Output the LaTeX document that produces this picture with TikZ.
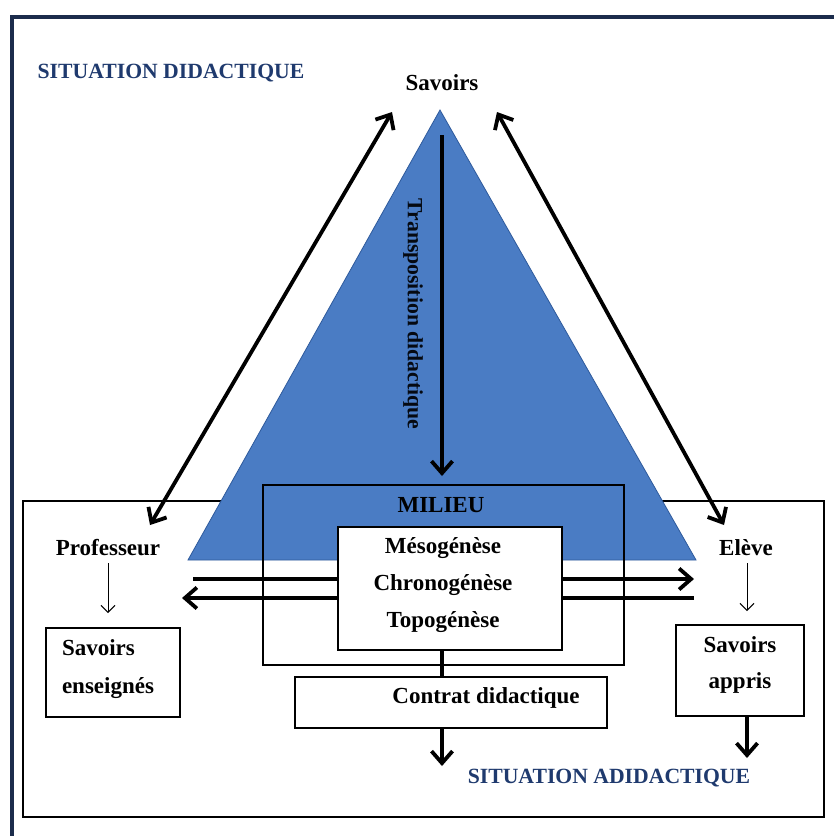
\documentclass[tikz,border=0pt]{standalone}
\usepackage{fontspec}
\setmainfont{Liberation Serif}
\usetikzlibrary{arrows.meta}
\definecolor{navy}{HTML}{1F3A6E}
\definecolor{framecol}{HTML}{1C2C4C}
\definecolor{triblue}{HTML}{4A7CC4}
\definecolor{triedge}{HTML}{2E5A9C}
\begin{document}
\begin{tikzpicture}[x=1pt,y=-1pt,
  lbl/.style={font=\fontsize{23}{37}\selectfont\bfseries, inner sep=0pt, align=center},
  biglbl/.style={font=\fontsize{21.7}{25}\selectfont\bfseries, inner sep=0pt, text=navy},
  boxshape/.style={draw=black, line width=2.7pt, inner sep=0pt},
  heavy/.style={line width=3.8pt, -{Straight Barb[length=12pt,width=21pt]}},
  heavyboth/.style={line width=3.8pt, {Straight Barb[length=12pt,width=21pt]}-{Straight Barb[length=12pt,width=21pt]}},
  light/.style={line width=1pt, -{Straight Barb[length=7pt,width=14pt]}}
]
\useasboundingbox (0,0) rectangle (834,836);
\clip (0,0) rectangle (834,836);
\fill[white] (0,0) rectangle (834,836);
% outer frame (right and bottom outside the picture)
\draw[framecol, line width=4.5pt] (12,900) -- (12,17) -- (900,17);

% situation adidactique box
\node[boxshape, minimum width=801, minimum height=316] (adid) at (423.5,659) {};

% triangle
\fill[triblue, draw=triedge, line width=0.8pt] (440,110) -- (188,560) -- (696,560) -- cycle;

% milieu box
\node[boxshape, minimum width=361, minimum height=180] (milieu) at (443.5,575) {};

% horizontal arrows
\coordinate (hL1) at (193,579);
\coordinate (hR1) at (694,579);
\coordinate (hR2) at (694,598);
\coordinate (hL2) at (182,598);
\draw[heavy] (hL1) -- (hR1);
\draw[heavy] (hR2) -- (hL2);

% white box
\node[boxshape, fill=white, minimum width=224, minimum height=123] (wbox) at (450,588.5) {};
\node[lbl] (genese) at (443,585) {Mésogénèse\\Chronogénèse\\Topogénèse};
\node[lbl] (mil) at (441,505) {MILIEU};

% contrat
\node[boxshape, minimum width=312, minimum height=51] (contrat) at (451,702.5) {};
\node[lbl] (contrattxt) at (486,698) {Contrat didactique};
\draw[line width=3.8pt] (wbox.south -| 442,0) -- (contrat.north -| 442,0);
\coordinate (cdown) at (442,766);
\draw[heavy] (contrat.south -| 442,0) -- (cdown);

% savoirs enseignés / appris
\node[boxshape, minimum width=134, minimum height=89] (ens) at (113,672.5) {};
\node[lbl, align=left, font=\fontsize{23}{38}\selectfont\bfseries] (enstxt) at (108,669) {Savoirs\\enseignés};
\node[boxshape, minimum width=128, minimum height=91] (appr) at (740,670.5) {};
\node[lbl, font=\fontsize{23}{36}\selectfont\bfseries] (apprtxt) at (740,665) {Savoirs\\appris};
\coordinate (adown) at (747,758);
\draw[heavy] (appr.south -| 747,0) -- (adown);

% labels
\node[lbl] (prof) at (108,548) {Professeur};
\node[lbl] (eleve) at (746,548) {Elève};
\node[lbl] (savoirs) at (442,83) {Savoirs};
\node[biglbl] (sitd) at (171,73) {SITUATION DIDACTIQUE};
\node[biglbl] (sitad) at (609,778) {SITUATION ADIDACTIQUE};
\node[lbl, rotate=-90, font=\fontsize{21.7}{25}\selectfont\bfseries, text=black!85!navy] (transpo) at (413,314) {Transposition didactique};

% thin arrows
\coordinate (pt) at (108,563);
\coordinate (pb) at (108,613);
\coordinate (et) at (747,563);
\coordinate (eb) at (747,611);
\draw[light] (pt) -- (pb);
\draw[light] (et) -- (eb);

% diagonal double arrows
\coordinate (lt) at (392,112);
\coordinate (lb) at (150,525);
\coordinate (rt) at (497,112);
\coordinate (rb) at (724,525);
\draw[heavyboth] (lt) -- (lb);
\draw[heavyboth] (rt) -- (rb);

% transposition arrow
\coordinate (vt) at (442,135);
\coordinate (vb) at (442,476);
\draw[heavy] (vt) -- (vb);
\end{tikzpicture}
\end{document}
